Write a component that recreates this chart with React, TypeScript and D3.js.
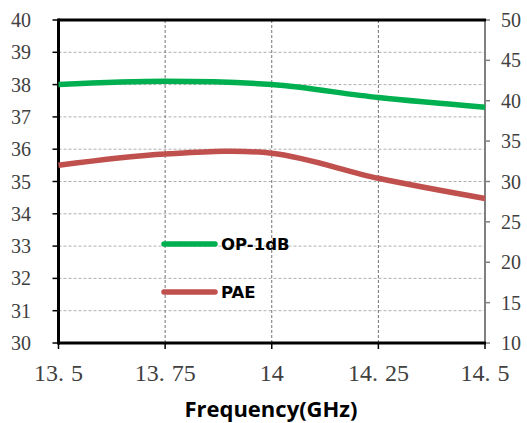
import React from "react";
import * as d3 from "d3";

const freqs = [13.5, 13.75, 14, 14.25, 14.5];
const op1dB = [38.0, 38.1, 38.0, 37.6, 37.3];
const pae = [32.0, 33.4, 33.5, 30.4, 27.9];
const xTicks = ["13.5", "13.75", "14", "14.25", "14.5"];
const leftTicks = [30, 31, 32, 33, 34, 35, 36, 37, 38, 39, 40];
const rightTicks = [10, 15, 20, 25, 30, 35, 40, 45, 50];
const legendItems = [
  { name: "OP-1dB", color: "#00B050" },
  { name: "PAE", color: "#C0504D" },
];

const W = 527, H = 423;
const L = 58.5, R = 485, T = 20, B = 343;

export default function App() {
  const x = d3.scaleLinear().domain([13.5, 14.5]).range([L, R]);
  const yL = d3.scaleLinear().domain([30, 40]).range([B, T]);
  const yR = d3.scaleLinear().domain([10, 50]).range([B, T]);
  const lineL = d3.line<number>().x((_, i) => x(freqs[i])).y((d) => yL(d)).curve(d3.curveCatmullRom.alpha(0.5));
  const lineR = d3.line<number>().x((_, i) => x(freqs[i])).y((d) => yR(d)).curve(d3.curveCatmullRom.alpha(0.5));
  const serif = "'Liberation Serif', 'DejaVu Serif', serif";
  const sans = "'Open Sans', 'Noto Sans', sans-serif";
  const legendFont = "'DejaVu Sans', 'Open Sans', sans-serif";

  const renderX = (s: string) => {
    const parts = s.split(".");
    if (parts.length === 1) return s;
    return (
      <>
        {parts[0] + "."}
        <tspan dx={7}>{parts[1]}</tspan>
      </>
    );
  };

  return (
    <svg width={W} height={H} style={{ position: "absolute", left: 0, top: 0, background: "#fff" }}>
      <rect width={W} height={H} fill="#fff" />
      {/* horizontal grid */}
      {leftTicks.slice(1, -1).map((t) => (
        <line key={"h" + t} x1={L} x2={R} y1={yL(t)} y2={yL(t)} stroke="#b0b0b0" strokeWidth={1} strokeDasharray="3,2" />
      ))}
      {/* vertical grid */}
      {freqs.slice(1, -1).map((f) => (
        <line key={"v" + f} x1={x(f)} x2={x(f)} y1={T} y2={B} stroke="#707070" strokeWidth={1} strokeDasharray="3,2" />
      ))}
      {/* right axis */}
      <line x1={R} x2={R} y1={T - 1} y2={B} stroke="#808080" strokeWidth={2} />
      {rightTicks.map((t) => (
        <g key={"r" + t}>
          <line x1={R} x2={R + 5} y1={yR(t)} y2={yR(t)} stroke="#808080" strokeWidth={1.5} />
          <text x={R + 16} y={yR(t)} dy="0.35em" fontFamily={serif} fontSize={20} fill="#404040">{t}</text>
        </g>
      ))}
      {/* left axis */}
      {leftTicks.map((t) => (
        <g key={"l" + t}>
          <line x1={L - 6} x2={L} y1={yL(t)} y2={yL(t)} stroke="#000" strokeWidth={1.5} />
          <text x={31} y={yL(t)} dy="0.35em" textAnchor="end" fontFamily={serif} fontSize={20} fill="#404040">{t}</text>
        </g>
      ))}
      {/* x ticks */}
      {freqs.map((f, i) => (
        <g key={"x" + f}>
          <line x1={x(f)} x2={x(f)} y1={B} y2={B + 6} stroke="#000" strokeWidth={1.5} />
          <text x={x(f)} y={B + 38} textAnchor="middle" fontFamily={serif} fontSize={24} fill="#404040">{renderX(xTicks[i])}</text>
        </g>
      ))}
      <line x1={L} x2={R + 1} y1={T} y2={T} stroke="#000" strokeWidth={3} />
      <line x1={L} x2={L} y1={T - 1.5} y2={B + 1.5} stroke="#000" strokeWidth={3} />
      <line x1={L} x2={R + 1} y1={B} y2={B} stroke="#000" strokeWidth={3} />
      {/* series */}
      <path d={lineL(op1dB) || ""} fill="none" stroke="#00B050" strokeWidth={5.5} />
      <path d={lineR(pae) || ""} fill="none" stroke="#C0504D" strokeWidth={5.5} />
      {/* legend */}
      {legendItems.map((it, i) => (
        <g key={it.name} transform={`translate(0, ${244 + i * 48})`}>
          <line x1={164} x2={215} y1={0} y2={0} stroke={it.color} strokeWidth={5.5} strokeLinecap="round" />
          <text x={221} y={0} dy="0.36em" fontFamily={legendFont} fontWeight="bold" fontSize={16.5} fill="#000">{it.name}</text>
        </g>
      ))}
      <text x={271} y={417} textAnchor="middle" fontFamily={sans} fontWeight="bold" fontSize={22} fill="#000">Frequency(GHz)</text>
    </svg>
  );
}
